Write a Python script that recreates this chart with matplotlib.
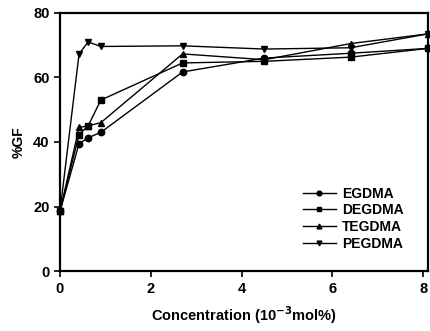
import matplotlib
matplotlib.use("Agg")
import matplotlib.pyplot as plt

plt.rcParams["font.family"] = ["Liberation Sans", "DejaVu Sans"]
plt.rcParams["font.weight"] = "bold"
plt.rcParams["mathtext.default"] = "bf"

# Data
conc = [0, 0.42, 0.62, 0.9, 2.7, 4.5, 6.4, 8.1]
egdma = [18.5, 39.5, 41.3, 43.0, 61.7, 66.0, 67.5, 69.0]
degdma = [18.5, 42.3, 45.0, 53.0, 64.5, 65.0, 66.3, 69.0]
tegdma = [18.5, 44.5, 45.0, 46.0, 67.3, 65.5, 70.5, 73.5]
pegdma = [18.5, 67.3, 71.0, 69.6, 69.8, 68.8, 69.2, 73.5]

series = [
    ("EGDMA", egdma, "o"),
    ("DEGDMA", degdma, "s"),
    ("TEGDMA", tegdma, "^"),
    ("PEGDMA", pegdma, "v"),
]

fig = plt.figure(figsize=(4.3, 3.31), dpi=100)
ax = fig.add_axes([0.1395, 0.181, 0.8555, 0.78])

for name, vals, mk in series:
    ax.plot(conc, vals, color="black", lw=1.0, marker=mk, markersize=4.6,
            label=name, clip_on=False, zorder=3)

ax.set_xlim(0, 8.1)
ax.set_ylim(0, 80)
ax.set_xticks([0, 2, 4, 6, 8])
ax.set_yticks([0, 20, 40, 60, 80])

for s in ax.spines.values():
    s.set_linewidth(1.6)
ax.tick_params(direction="out", length=4.5, width=1.2, labelsize=10.5, pad=3)
for lab in ax.get_xticklabels() + ax.get_yticklabels():
    lab.set_fontweight("bold")

ax.set_xlabel("Concentration (10$^{-3}$mol%)", fontsize=10.5, fontweight="bold", labelpad=6)
ax.set_ylabel("%GF", fontsize=10, fontweight="bold", labelpad=5)

leg = ax.legend(loc="lower right", bbox_to_anchor=(0.969, 0.03), frameon=False,
                prop={"size": 10, "weight": "bold"}, handlelength=2.4,
                labelspacing=0.2, handletextpad=0.45, markerscale=0.75)

fig.savefig("out.png", dpi=100)
